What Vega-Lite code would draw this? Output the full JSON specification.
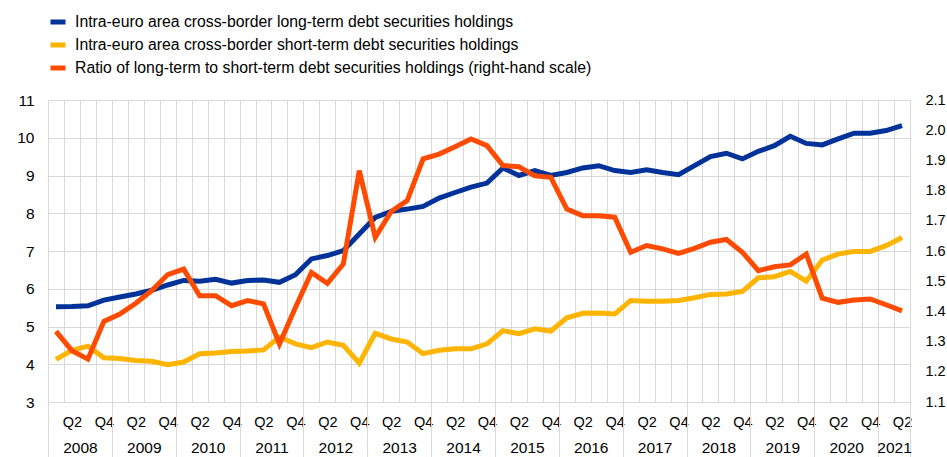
{
  "$schema": "https://vega.github.io/schema/vega-lite/v6.json",
  "width": 862,
  "height": 302,
  "autosize": {"type": "none"},
  "padding": {"left": 48, "top": 100, "right": 37, "bottom": 55},
  "background": "white",
  "config": {
    "view": {"stroke": null},
    "font": "Liberation Sans",
    "axis": {"labelFont": "Liberation Sans", "labelFontSize": 14, "labelColor": "#000000", "title": null},
    "legend": {"labelFont": "Liberation Sans"}
  },
  "data": {
    "values": [
      {"period": "2008 Q1", "t": 0.5, "long": 5.52, "short": 4.13, "ratio": 1.334},
      {"period": "2008 Q2", "t": 1.5, "long": 5.53, "short": 4.37, "ratio": 1.270},
      {"period": "2008 Q3", "t": 2.5, "long": 5.55, "short": 4.48, "ratio": 1.242},
      {"period": "2008 Q4", "t": 3.5, "long": 5.70, "short": 4.17, "ratio": 1.367},
      {"period": "2009 Q1", "t": 4.5, "long": 5.78, "short": 4.15, "ratio": 1.391},
      {"period": "2009 Q2", "t": 5.5, "long": 5.86, "short": 4.10, "ratio": 1.427},
      {"period": "2009 Q3", "t": 6.5, "long": 5.96, "short": 4.08, "ratio": 1.469},
      {"period": "2009 Q4", "t": 7.5, "long": 6.10, "short": 3.99, "ratio": 1.522},
      {"period": "2010 Q1", "t": 8.5, "long": 6.22, "short": 4.06, "ratio": 1.540},
      {"period": "2010 Q2", "t": 9.5, "long": 6.20, "short": 4.28, "ratio": 1.452},
      {"period": "2010 Q3", "t": 10.5, "long": 6.25, "short": 4.30, "ratio": 1.452},
      {"period": "2010 Q4", "t": 11.5, "long": 6.15, "short": 4.34, "ratio": 1.419},
      {"period": "2011 Q1", "t": 12.5, "long": 6.22, "short": 4.35, "ratio": 1.436},
      {"period": "2011 Q2", "t": 13.5, "long": 6.23, "short": 4.38, "ratio": 1.425},
      {"period": "2011 Q3", "t": 14.5, "long": 6.17, "short": 4.72, "ratio": 1.292},
      {"period": "2011 Q4", "t": 15.5, "long": 6.37, "short": 4.54, "ratio": 1.413},
      {"period": "2012 Q1", "t": 16.5, "long": 6.79, "short": 4.44, "ratio": 1.529},
      {"period": "2012 Q2", "t": 17.5, "long": 6.88, "short": 4.59, "ratio": 1.493},
      {"period": "2012 Q3", "t": 18.5, "long": 7.01, "short": 4.50, "ratio": 1.557},
      {"period": "2012 Q4", "t": 19.5, "long": 7.45, "short": 4.03, "ratio": 1.866},
      {"period": "2013 Q1", "t": 20.5, "long": 7.89, "short": 4.82, "ratio": 1.645},
      {"period": "2013 Q2", "t": 21.5, "long": 8.05, "short": 4.67, "ratio": 1.731},
      {"period": "2013 Q3", "t": 22.5, "long": 8.11, "short": 4.59, "ratio": 1.767},
      {"period": "2013 Q4", "t": 23.5, "long": 8.18, "short": 4.28, "ratio": 1.905},
      {"period": "2014 Q1", "t": 24.5, "long": 8.40, "short": 4.37, "ratio": 1.921},
      {"period": "2014 Q2", "t": 25.5, "long": 8.55, "short": 4.41, "ratio": 1.945},
      {"period": "2014 Q3", "t": 26.5, "long": 8.69, "short": 4.41, "ratio": 1.971},
      {"period": "2014 Q4", "t": 27.5, "long": 8.80, "short": 4.54, "ratio": 1.949},
      {"period": "2015 Q1", "t": 28.5, "long": 9.20, "short": 4.89, "ratio": 1.883},
      {"period": "2015 Q2", "t": 29.5, "long": 9.00, "short": 4.81, "ratio": 1.879},
      {"period": "2015 Q3", "t": 30.5, "long": 9.13, "short": 4.94, "ratio": 1.849},
      {"period": "2015 Q4", "t": 31.5, "long": 9.00, "short": 4.88, "ratio": 1.844},
      {"period": "2016 Q1", "t": 32.5, "long": 9.08, "short": 5.23, "ratio": 1.739},
      {"period": "2016 Q2", "t": 33.5, "long": 9.20, "short": 5.35, "ratio": 1.717},
      {"period": "2016 Q3", "t": 34.5, "long": 9.26, "short": 5.36, "ratio": 1.717},
      {"period": "2016 Q4", "t": 35.5, "long": 9.13, "short": 5.33, "ratio": 1.712},
      {"period": "2017 Q1", "t": 36.5, "long": 9.08, "short": 5.69, "ratio": 1.596},
      {"period": "2017 Q2", "t": 37.5, "long": 9.15, "short": 5.67, "ratio": 1.618},
      {"period": "2017 Q3", "t": 38.5, "long": 9.08, "short": 5.67, "ratio": 1.607},
      {"period": "2017 Q4", "t": 39.5, "long": 9.02, "short": 5.69, "ratio": 1.592},
      {"period": "2018 Q1", "t": 40.5, "long": 9.26, "short": 5.76, "ratio": 1.609},
      {"period": "2018 Q2", "t": 41.5, "long": 9.50, "short": 5.85, "ratio": 1.629},
      {"period": "2018 Q3", "t": 42.5, "long": 9.59, "short": 5.86, "ratio": 1.638},
      {"period": "2018 Q4", "t": 43.5, "long": 9.44, "short": 5.93, "ratio": 1.596},
      {"period": "2019 Q1", "t": 44.5, "long": 9.64, "short": 6.29, "ratio": 1.535},
      {"period": "2019 Q2", "t": 45.5, "long": 9.79, "short": 6.32, "ratio": 1.548},
      {"period": "2019 Q3", "t": 46.5, "long": 10.04, "short": 6.46, "ratio": 1.554},
      {"period": "2019 Q4", "t": 47.5, "long": 9.85, "short": 6.20, "ratio": 1.590},
      {"period": "2020 Q1", "t": 48.5, "long": 9.81, "short": 6.76, "ratio": 1.444},
      {"period": "2020 Q2", "t": 49.5, "long": 9.97, "short": 6.92, "ratio": 1.430},
      {"period": "2020 Q3", "t": 50.5, "long": 10.12, "short": 6.99, "ratio": 1.438},
      {"period": "2020 Q4", "t": 51.5, "long": 10.12, "short": 6.99, "ratio": 1.441},
      {"period": "2021 Q1", "t": 52.5, "long": 10.19, "short": 7.14, "ratio": 1.422},
      {"period": "2021 Q2", "t": 53.5, "long": 10.32, "short": 7.36, "ratio": 1.402}
    ]
  },
  "layer": [
    {
      "transform": [{"fold": ["long", "short"], "as": ["series", "value"]}],
      "mark": {"type": "line", "strokeWidth": 5},
      "encoding": {
        "x": {
          "field": "t", "type": "quantitative",
          "scale": {"domain": [0, 54], "nice": false, "zero": false},
          "axis": {
            "orient": "bottom",
            "values": [0,1,2,3,4,5,6,7,8,9,10,11,12,13,14,15,16,17,18,19,20,21,22,23,24,25,26,27,28,29,30,31,32,33,34,35,36,37,38,39,40,41,42,43,44,45,46,47,48,49,50,51,52,53,54],
            "grid": true, "gridColor": "#d9d9d9", "gridWidth": 1,
            "labels": false, "ticks": false, "domain": false, "title": null
          }
        },
        "y": {
          "field": "value", "type": "quantitative",
          "scale": {"domain": [3, 11], "nice": false, "zero": false},
          "axis": {
            "orient": "left",
            "values": [3,4,5,6,7,8,9,10,11],
            "grid": true, "gridColor": "#d9d9d9", "gridWidth": 1,
            "ticks": false, "domain": false, "labelPadding": 14, "labelFontSize": 15.5, "title": null
          }
        },
        "color": {
          "field": "series", "type": "nominal",
          "scale": {"domain": ["long", "short", "ratio"], "range": ["#003299", "#ffb400", "#ff4b00"]},
          "legend": {
            "orient": "none", "legendX": 0, "legendY": -88, "direction": "vertical",
            "title": null, "padding": 0,
            "symbolType": "stroke", "symbolStrokeWidth": 5, "symbolSize": 225,
            "labelFontSize": 15.8, "labelColor": "#000000", "labelOffset": 7, "rowPadding": 3,
            "labelLimit": 800,
            "labelExpr": "datum.label == 'long' ? 'Intra-euro area cross-border long-term debt securities holdings' : datum.label == 'short' ? 'Intra-euro area cross-border short-term debt securities holdings' : 'Ratio of long-term to short-term debt securities holdings (right-hand scale)'"
          }
        },
        "order": {"field": "t"}
      }
    },
    {
      "mark": {"type": "line", "strokeWidth": 5},
      "encoding": {
        "x": {
          "field": "t", "type": "quantitative",
          "axis": {
            "orient": "bottom",
            "values": [1.5,3.5,5.5,7.5,9.5,11.5,13.5,15.5,17.5,19.5,21.5,23.5,25.5,27.5,29.5,31.5,33.5,35.5,37.5,39.5,41.5,43.5,45.5,47.5,49.5,51.5,53.5],
            "labelExpr": "(datum.value % 4) == 1.5 ? 'Q2' : 'Q4'",
            "labelOverlap": false, "labelFlush": false, "labelBound": false,
            "grid": false, "ticks": false, "domain": false, "labelPadding": 13, "labelFontSize": 14.5, "title": null
          }
        },
        "y": {
          "field": "ratio", "type": "quantitative",
          "scale": {"domain": [1.1, 2.1], "nice": false, "zero": false},
          "axis": {
            "orient": "right",
            "values": [1.1, 1.2, 1.3, 1.4, 1.5, 1.6, 1.7, 1.8, 1.9, 2.0, 2.1],
            "format": ".1f",
            "grid": false, "ticks": false, "domain": false, "labelPadding": 15, "labelFontSize": 14.5, "title": null
          }
        },
        "color": {"datum": "ratio"}
      }
    },
    {
      "mark": {"type": "point", "opacity": 0},
      "encoding": {
        "x": {
          "field": "t", "type": "quantitative",
          "axis": {
            "orient": "bottom",
            "values": [0,4,8,12,16,20,24,28,32,36,40,44,48,52,54],
            "labels": false, "grid": false, "domain": false,
            "ticks": true, "tickSize": 56, "tickColor": "#d9d9d9", "tickWidth": 1, "title": null
          }
        }
      }
    },
    {
      "mark": {"type": "point", "opacity": 0},
      "encoding": {
        "x": {
          "field": "t", "type": "quantitative",
          "axis": {
            "orient": "bottom",
            "values": [2,6,10,14,18,22,26,30,34,38,42,46,50,53],
            "labelExpr": "datum.value == 53 ? '2021' : '' + (2008 + (datum.value - 2) / 4)",
            "labelOverlap": false, "labelFlush": false, "labelBound": false,
            "grid": false, "ticks": false, "domain": false, "labelPadding": 38, "labelFontSize": 15.5, "title": null
          }
        }
      }
    }
  ],
  "resolve": {
    "scale": {"y": "independent"},
    "axis": {"x": "independent", "y": "independent"}
  }
}
